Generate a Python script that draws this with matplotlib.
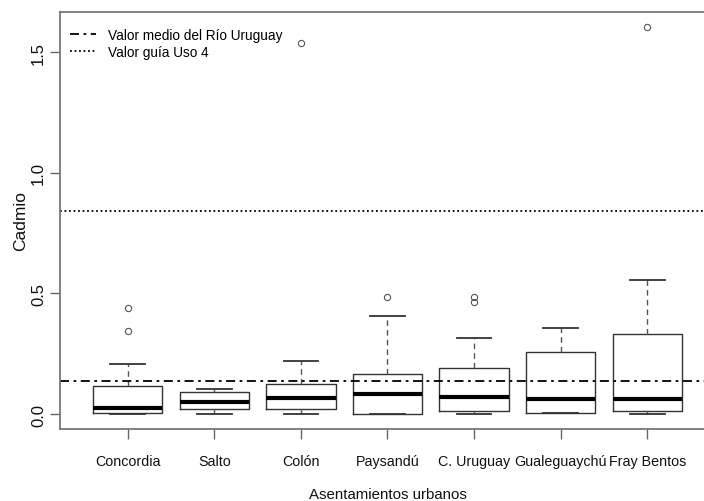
import matplotlib
matplotlib.use("Agg")
import matplotlib.pyplot as plt
from matplotlib.lines import Line2D

# Cadmio por asentamiento urbano
sitios = ["Concordia", "Salto", "Colón", "Paysandú", "C. Uruguay",
          "Gualeguaychú", "Fray Bentos"]
bigote_inf = [0.002, 0.002, 0.002, 0.001, 0.002, 0.004, 0.002]
q1 = [0.004, 0.021, 0.021, 0.001, 0.012, 0.004, 0.012]
mediana = [0.025, 0.049, 0.065, 0.084, 0.072, 0.061, 0.061]
q3 = [0.115, 0.091, 0.126, 0.167, 0.190, 0.257, 0.333]
bigote_sup = [0.206, 0.105, 0.219, 0.407, 0.315, 0.356, 0.556]
atipicos = [[0.439, 0.346], [], [1.539], [0.484], [0.487, 0.463], [], [1.602]]

media_rio = 0.138
guia_uso4 = 0.841

plt.rcParams["font.family"] = ["Liberation Sans", "DejaVu Sans"]

fig = plt.figure(figsize=(7.04, 5.02), dpi=100)
ax = fig.add_axes([60 / 704, 72 / 502, 655 / 704, 417 / 502])

stats = []
for i, nombre in enumerate(sitios):
    stats.append({
        "label": nombre,
        "whislo": bigote_inf[i], "q1": q1[i], "med": mediana[i],
        "q3": q3[i], "whishi": bigote_sup[i], "fliers": atipicos[i],
    })

ax.bxp(stats, positions=range(1, len(sitios) + 1), widths=0.8,
       capwidths=0.4, showfliers=True,
       boxprops=dict(color="#333333", linewidth=1.0),
       medianprops=dict(color="black", linewidth=3.0),
       whiskerprops=dict(color="#555555", linewidth=1.0, linestyle=(0, (4, 3))),
       capprops=dict(color="#333333", linewidth=1.3),
       flierprops=dict(marker="o", markersize=4.5, markerfacecolor="none",
                       markeredgecolor="#555555", markeredgewidth=0.8))

ax.axhline(media_rio, color="black", linewidth=1.3, linestyle=(0, (5, 2.5, 1.5, 2.5)))
ax.axhline(guia_uso4, color="black", linewidth=1.3, linestyle=(0, (1, 1.5)))

ax.set_xlim(0.22, 7.78)
ax.set_ylim(-0.062, 1.666)
ax.set_yticks([0.0, 0.5, 1.0, 1.5])
ax.set_yticklabels(["0.0", "0.5", "1.0", "1.5"], rotation=90, va="center",
                   fontsize=12)
ax.set_xticks(range(1, len(sitios) + 1))
ax.set_xticklabels(sitios, fontsize=10.3)

for s in ax.spines.values():
    s.set_color("#777777")
    s.set_linewidth(1.3)
ax.tick_params(axis="both", colors="#666666", labelcolor="#111111",
               length=7, width=1.0)
ax.tick_params(axis="x", pad=11)
ax.tick_params(axis="y", pad=3)

ax.set_xlabel("Asentamientos urbanos", fontsize=10.8, color="#111111", labelpad=14)
ax.set_ylabel("Cadmio", fontsize=12.5, color="#111111", labelpad=2)

handles = [
    Line2D([], [], color="black", linewidth=1.3, linestyle=(0, (5, 2.5, 1.5, 2.5))),
    Line2D([], [], color="black", linewidth=1.3, linestyle=(0, (1, 1.5))),
]
ax.legend(handles, ["Valor medio del Río Uruguay", "Valor guía Uso 4"],
          loc="upper left", bbox_to_anchor=(0.0153, 0.962), frameon=False,
          fontsize=9.8, handlelength=1.9, handletextpad=0.9,
          labelspacing=0.25, borderpad=0, borderaxespad=0)

fig.savefig("out.png", dpi=100, facecolor="white")
